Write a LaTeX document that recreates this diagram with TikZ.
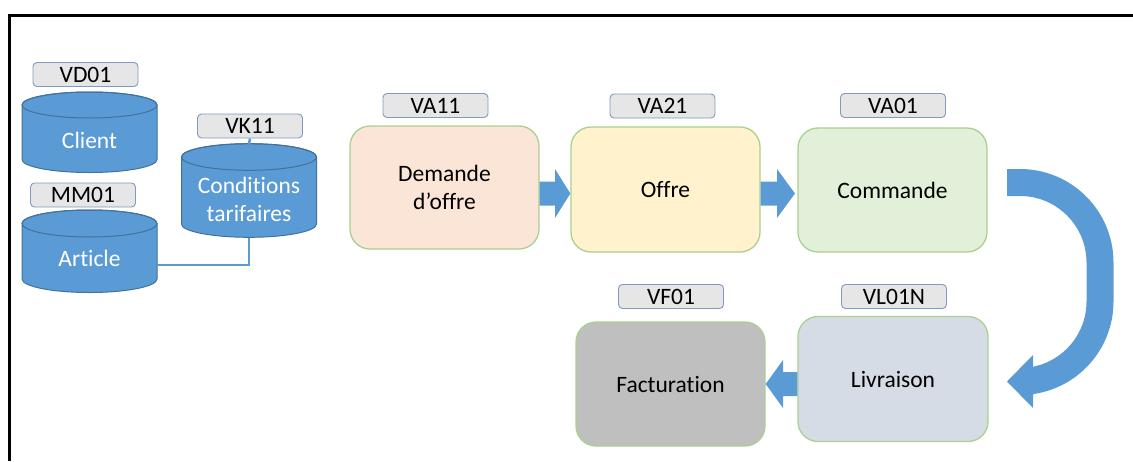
\documentclass[tikz,border=0pt]{standalone}
\usepackage{fontspec}
\setmainfont{Carlito}[Ligatures=NoCommon]
\definecolor{flowblue}{HTML}{5B9BD5}
\definecolor{cyledge}{HTML}{41719C}
\definecolor{tagfill}{HTML}{E6E6E6}
\definecolor{tagedge}{HTML}{7F9BBF}
\definecolor{boxedge}{HTML}{A9D18E}
\definecolor{cdem}{HTML}{FBE5D6}
\definecolor{coff}{HTML}{FFF2CC}
\definecolor{ccom}{HTML}{E2F0D9}
\definecolor{cliv}{HTML}{D6DCE5}
\definecolor{cfac}{HTML}{BFBFBF}
\newcommand\mycyl[5]{% cx, ytop, ybot, rx, ry
  \filldraw[fill=flowblue,draw=cyledge,line width=1pt]
    ({#1-#4},#2) -- ({#1-#4},#3) arc[start angle=180,end angle=0,x radius=#4,y radius=#5]
    -- ({#1+#4},#2) arc[start angle=0,end angle=-180,x radius=#4,y radius=#5] -- cycle;
  \draw[cyledge,line width=1pt] (#1,#2) ellipse[x radius=#4,y radius=#5];
}
\begin{document}
\begin{tikzpicture}[x=1pt,y=-1pt,
  tag/.style={draw=tagedge,fill=tagfill,rounded corners=4pt,line width=0.9pt,
    minimum width=105pt,minimum height=24pt,inner sep=0pt,
    font=\fontsize{23.5}{24}\selectfont},
  procbox/.style={draw=boxedge,rounded corners=20pt,line width=1.3pt,
    minimum width=189pt,minimum height=124pt,inner sep=0pt,align=center,
    font=\fontsize{23.5}{28}\selectfont},
  cyltext/.style={text=white,align=center,inner sep=0pt,font=\fontsize{23.5}{28}\selectfont},
  link/.style={draw=flowblue,line width=2.5pt},
  flow/.style={fill=flowblue}]
\useasboundingbox (0,0) rectangle (1133,461);
% frame
\draw[line width=3.5pt] (9.5,461) -- (9.5,15.3) -- (1133,15.3);
% cylinders
\mycyl{89.5}{105}{159.5}{67.5}{13}
\mycyl{89.5}{223.5}{279}{67.5}{13.5}
\mycyl{249}{157}{224}{67.5}{13.3}
\node[cyltext] (client) at (89.5,140) {Client};
\node[cyltext] (article) at (89.5,258) {Article};
\node[cyltext] (cond) at (249,199) {Conditions\\tarifaires};
\coordinate (condtop) at (249,144);
\coordinate (condbot) at (249,237.5);
\coordinate (artright) at (157,265);
% tags
\node[tag] (vd01) at (85.5,74.5) {VD01};
\node[tag] (mm01) at (83,195) {MM01};
\node[tag] (vk11) at (250,126) {VK11};
\node[tag] (va11) at (435.5,105.5) {VA11};
\node[tag] (va21) at (662.5,106) {VA21};
\node[tag] (va01) at (893,105.5) {VA01};
\node[tag] (vl01n) at (894,296.5) {VL01N};
\node[tag] (vf01) at (671,296.5) {VF01};
% links
\draw[link] (vk11.south) -- (condtop);
\draw[link] (condbot) |- (artright);
% process boxes
\node[procbox,fill=cdem,minimum height=123pt] (dem) at (444.5,187.5) {Demande\\d’offre};
\node[procbox,fill=coff,minimum height=125pt] (off) at (665.5,189.5) {Offre};
\node[procbox,fill=ccom] (com) at (892.5,190) {Commande};
\node[procbox,fill=cliv,minimum height=125pt,minimum width=190pt] (liv) at (893,379) {Livraison};
\node[procbox,fill=cfac,minimum height=124pt] (fac) at (670.5,384) {Facturation};
% block arrows
\fill[flow] (dem.east |- 0,181.5) -- (555,181.5) -- (555,169) -- (off.west |- 0,193.5)
  -- (555,218) -- (555,205.5) -- (dem.east |- 0,205.5) -- cycle;
\fill[flow] (off.east |- 0,181.5) -- (777,181.5) -- (777,169) -- (795,193.5)
  -- (777,218) -- (777,205.5) -- (off.east |- 0,205.5) -- cycle;
\fill[flow] (liv.west |- 0,372) -- (783,372) -- (783,360) -- (fac.east |- 0,384)
  -- (783,408) -- (783,396) -- (liv.west |- 0,396) -- cycle;
% curved arrow from Commande to Livraison
\coordinate (cstart) at (1007,182.5);
\coordinate (cend) at (1033,381.5);
\coordinate (ctip) at (1007,381.5);
\draw[flowblue,line width=27pt] (cstart) -- (1020,182.5) arc[start angle=-90,end angle=0,radius=80]
  -- (1100,301.5) arc[start angle=0,end angle=90,radius=80] -- (cend);
\fill[flow] (1033,355) -- (ctip) -- (1033,408) -- cycle;
\end{tikzpicture}
\end{document}
